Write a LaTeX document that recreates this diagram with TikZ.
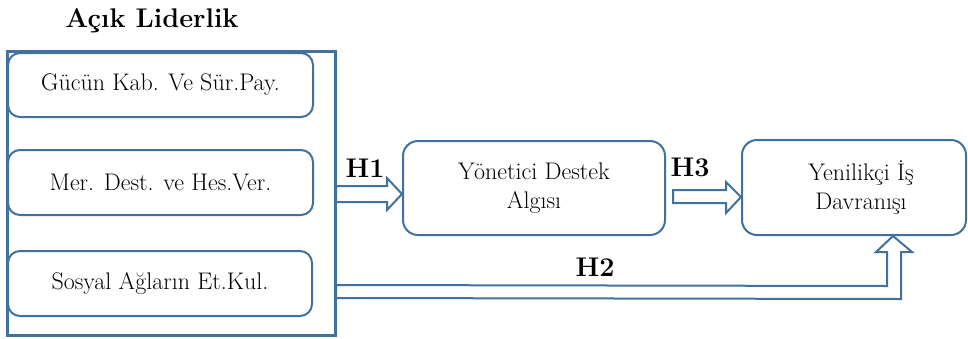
\documentclass[tikz,border=0pt]{standalone}
\usetikzlibrary{calc}
\definecolor{bl}{RGB}{65,113,156}
\begin{document}
\begin{tikzpicture}[x=1pt,y=-1pt,
  lw/.style={line width=2pt, draw=bl},
  rbox/.style={lw, rounded corners=12pt, inner sep=0pt, align=center, font=\fontsize{24}{28.5}\selectfont},
  lab/.style={font=\fontsize{27}{32}\selectfont\bfseries, anchor=base, inner sep=0pt},
  barrow/.style={lw, fill=white, line join=miter}]
\useasboundingbox (0,0) rectangle (968,338);
% title
\node[lab] (title) at (152,27) {Açık Liderlik};
% main nodes
\node[rbox, rounded corners=15pt, minimum width=262pt, minimum height=94pt] (yon) at (534,188) {Yönetici Destek\\Algısı};
\node[rbox, rounded corners=15pt, minimum width=224pt, minimum height=95pt] (yen) at (854,187.5) {\hspace*{14pt}Yenilikçi İş\\\hspace*{14pt}Davranışı};
\node[lw, draw, minimum width=327pt, minimum height=283pt, inner sep=0pt] (outer) at (171.5,193.5) {};
% arrows
\coordinate (h1s) at ($(outer.east)+(0,0.5)$);
\coordinate (h1t) at ($(yon.west)+(0,6)$);
\draw[barrow] ($(h1s)+(0,-8)$) -- ($(h1t)+(-15,-8)$) -- ($(h1t)+(-15,-16)$) -- (h1t)
  -- ($(h1t)+(-15,16)$) -- ($(h1t)+(-15,8)$) -- ($(h1s)+(0,8)$) -- cycle;
\coordinate (h3t) at ($(yen.west)+(0,9.5)$);
\coordinate (h3s) at (yon.east |- h3t);
\draw[barrow] ($(h3s)+(7,-7)$) -- ($(h3t)+(-15,-7)$) -- ($(h3t)+(-15,-15)$) -- (h3t)
  -- ($(h3t)+(-15,16)$) -- ($(h3t)+(-15,6)$) -- ($(h3s)+(7,6)$) -- cycle;
\coordinate (h2t) at ($(yen.south)+(39,0)$);
\draw[barrow] (outer.east |- 0,285) -- ($(h2t)+(-6,50)$) -- ($(h2t)+(-6,16)$) -- ($(h2t)+(-17,16)$)
  -- (h2t) -- ($(h2t)+(19,16)$) -- ($(h2t)+(8,16)$) -- ($(h2t)+(8,63)$) -- (outer.east |- 0,298) -- cycle;
% inner boxes
\node[rbox, minimum width=305pt, minimum height=64pt] (b1) at (160.5,85) {Gücün Kab. Ve Sür.Pay.};
\node[rbox, minimum width=305pt, minimum height=65pt] (b2) at (160.5,182.5) {Mer. Dest. ve Hes.Ver.};
\node[rbox, minimum width=304pt, minimum height=65pt] (b3) at (160,283.5) {Sosyal Ağların Et.Kul.};
% redraw outer border over arrow ends
\draw[lw] (outer.north west) rectangle (outer.south east);
% labels
\node[lab] (l1) at (365,177) {H1};
\node[lab] (l3) at (690,176.5) {H3};
\node[lab] (l2) at (595,276) {H2};
\end{tikzpicture}
\end{document}
